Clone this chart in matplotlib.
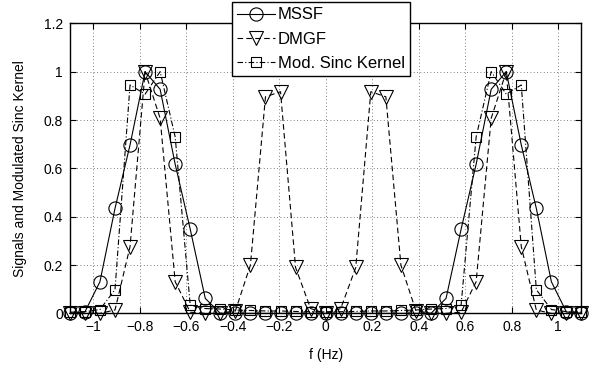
import numpy as np
import matplotlib
matplotlib.use("Agg")
import matplotlib.pyplot as plt

plt.rcParams['font.family'] = ['Liberation Sans', 'DejaVu Sans']

# frequency samples (35 points from -1.1 to 1.1)
f = np.linspace(-1.1, 1.1, 35)

# values for k = 0..17 (symmetric about f = 0)
mssf_half = [0.0, 0.0, 0.0, 0.0, 0.0, 0.0, 0.0, 0.0, 0.062, 0.348, 0.617,
             0.927, 1.0, 0.697, 0.434, 0.131, 0.006, 0.0]
dmgf_half = [0.0, 0.02, 0.19, 0.917, 0.896, 0.2, 0.01, 0.0, 0.0, 0.005, 0.131,
             0.807, 1.0, 0.276, 0.014, 0.0, 0.0, 0.0]
sinc_half = [0.007, 0.007, 0.008, 0.01, 0.01, 0.012, 0.014, 0.018, 0.02, 0.034, 0.73,
             1.0, 0.907, 0.945, 0.098, 0.016, 0.007, 0.005]

def mirror(h):
    h = list(h)
    return h[:0:-1] + h

mssf = mirror(mssf_half)
dmgf = mirror(dmgf_half)
sinc = mirror(sinc_half)

xticks = [-1, -0.8, -0.6, -0.4, -0.2, 0, 0.2, 0.4, 0.6, 0.8, 1]
xticklabels = ['\u22121', '\u22120.8', '\u22120.6', '\u22120.4', '\u22120.2', '0',
               '0.2', '0.4', '0.6', '0.8', '1']
yticks = [0, 0.2, 0.4, 0.6, 0.8, 1, 1.2]
yticklabels = ['0', '0.2', '0.4', '0.6', '0.8', '1', '1.2']

fig = plt.figure(figsize=(5.97, 3.70), dpi=100)
ax = fig.add_axes([0.117, 0.153, 0.857, 0.784])

lw = 0.8
ax.plot(f, mssf, '-', color='black', lw=lw, marker='o', ms=9.5,
        mfc='none', mec='black', mew=lw, label='MSSF', clip_on=False)
ax.plot(f, dmgf, '--', color='black', lw=lw, marker='v', ms=9.5,
        mfc='none', mec='black', mew=lw, label='DMGF', clip_on=False,
        dashes=(5, 3))
ax.plot(f, sinc, '-.', color='black', lw=lw, marker='s', ms=7.5,
        mfc='none', mec='black', mew=lw, label='Mod. Sinc Kernel', clip_on=False,
        dashes=(5, 2, 1, 2))

ax.set_xlim(-1.1, 1.1)
ax.set_ylim(0, 1.2)
ax.set_xticks(xticks)
ax.set_xticklabels(xticklabels)
ax.set_yticks(yticks)
ax.set_yticklabels(yticklabels)
ax.tick_params(direction='in', top=True, right=True, labelsize=10, length=4,
               width=0.8, pad=5)
ax.grid(True, linestyle=(0, (1, 3)), color='#555555', lw=0.6)
for s in ax.spines.values():
    s.set_linewidth(1.0)

ax.set_xlabel('f (Hz)', fontsize=10, labelpad=10)
ax.set_ylabel('Signals and Modulated Sinc Kernel', fontsize=10, labelpad=12)

leg = ax.legend(loc='upper left', bbox_to_anchor=(0.317, 1.072), fontsize=12,
                frameon=True, fancybox=False, edgecolor='black', framealpha=1,
                handlelength=2.3, handletextpad=0.15, borderpad=0.3,
                labelspacing=0.55, borderaxespad=0)
leg.get_frame().set_linewidth(1.0)

fig.savefig('out.png', dpi=100)
